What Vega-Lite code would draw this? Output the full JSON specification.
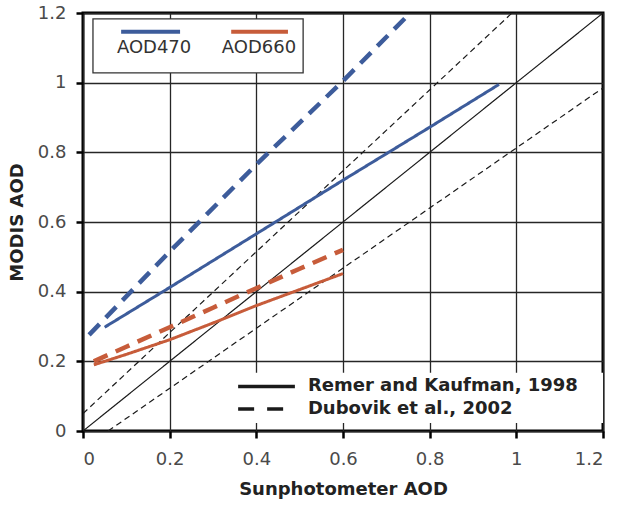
{
  "$schema": "https://vega.github.io/schema/vega-lite/v6.json",
  "width": 520,
  "height": 418,
  "autosize": {"type": "none"},
  "padding": {"left": 83, "top": 13, "right": 24, "bottom": 74},
  "background": "white",
  "config": {
    "view": {"stroke": "black", "strokeWidth": 3},
    "font": "DejaVu Sans",
    "axis": {
      "domain": false,
      "grid": true,
      "gridColor": "#262626",
      "gridWidth": 1.3,
      "gridOpacity": 1,
      "ticks": true,
      "tickColor": "black",
      "tickWidth": 2.5,
      "tickSize": 7,
      "labelFont": "DejaVu Sans",
      "labelFontSize": 18,
      "labelColor": "#4a4a4a",
      "titleFont": "DejaVu Sans",
      "titleFontSize": 18,
      "titleFontWeight": "bold",
      "titleColor": "#222"
    }
  },
  "resolve": {"scale": {"strokeDash": "independent"}},
  "datasets": {
    "curves": [
      {"band": "AOD470", "method": "Remer", "sun": 0.05, "modis": 0.298},
      {"band": "AOD470", "method": "Remer", "sun": 0.2, "modis": 0.412},
      {"band": "AOD470", "method": "Remer", "sun": 0.4, "modis": 0.566},
      {"band": "AOD470", "method": "Remer", "sun": 0.6, "modis": 0.72},
      {"band": "AOD470", "method": "Remer", "sun": 0.8, "modis": 0.872},
      {"band": "AOD470", "method": "Remer", "sun": 0.96, "modis": 0.995},
      {"band": "AOD470", "method": "Dubovik", "sun": 0.014, "modis": 0.276},
      {"band": "AOD470", "method": "Dubovik", "sun": 0.2, "modis": 0.515},
      {"band": "AOD470", "method": "Dubovik", "sun": 0.4, "modis": 0.765},
      {"band": "AOD470", "method": "Dubovik", "sun": 0.6, "modis": 1.005},
      {"band": "AOD470", "method": "Dubovik", "sun": 0.755, "modis": 1.2},
      {"band": "AOD660", "method": "Remer", "sun": 0.025, "modis": 0.19},
      {"band": "AOD660", "method": "Remer", "sun": 0.1, "modis": 0.22},
      {"band": "AOD660", "method": "Remer", "sun": 0.2, "modis": 0.262},
      {"band": "AOD660", "method": "Remer", "sun": 0.3, "modis": 0.31},
      {"band": "AOD660", "method": "Remer", "sun": 0.4, "modis": 0.36},
      {"band": "AOD660", "method": "Remer", "sun": 0.5, "modis": 0.406},
      {"band": "AOD660", "method": "Remer", "sun": 0.6, "modis": 0.452},
      {"band": "AOD660", "method": "Dubovik", "sun": 0.025, "modis": 0.2},
      {"band": "AOD660", "method": "Dubovik", "sun": 0.1, "modis": 0.242},
      {"band": "AOD660", "method": "Dubovik", "sun": 0.2, "modis": 0.298},
      {"band": "AOD660", "method": "Dubovik", "sun": 0.3, "modis": 0.354},
      {"band": "AOD660", "method": "Dubovik", "sun": 0.4, "modis": 0.41},
      {"band": "AOD660", "method": "Dubovik", "sun": 0.5, "modis": 0.466},
      {"band": "AOD660", "method": "Dubovik", "sun": 0.6, "modis": 0.52}
    ],
    "reference": [
      {"line": "one-to-one", "kind": "solid", "sun": 0, "modis": 0},
      {"line": "one-to-one", "kind": "solid", "sun": 1.2, "modis": 1.2},
      {"line": "upper", "kind": "envelope", "sun": 0, "modis": 0.05},
      {"line": "upper", "kind": "envelope", "sun": 0.99, "modis": 1.2},
      {"line": "lower", "kind": "envelope", "sun": 0.058, "modis": 0},
      {"line": "lower", "kind": "envelope", "sun": 1.2, "modis": 0.985}
    ],
    "boxes": [
      {"box": "bands", "x": 0.023, "x2": 0.508, "y": 1.028, "y2": 1.183},
      {"box": "methods", "x": 0.33, "x2": 1.2, "y": 0.023, "y2": 0.167}
    ],
    "bandKeys": [
      {"band": "AOD470", "x": 0.088, "x2": 0.224, "y": 1.146, "lx": 0.164, "ly": 1.1},
      {"band": "AOD660", "x": 0.342, "x2": 0.473, "y": 1.146, "lx": 0.406, "ly": 1.1}
    ],
    "methodKeys": [
      {"method": "Remer", "label": "Remer and Kaufman, 1998", "x": 0.358, "x2": 0.489, "y": 0.128, "lx": 0.519},
      {"method": "Dubovik", "label": "Dubovik et al., 2002", "x": 0.358, "x2": 0.462, "y": 0.063, "lx": 0.519}
    ]
  },
  "layer": [
    {
      "data": {"name": "boxes"},
      "transform": [{"filter": "datum.box === 'methods'"}],
      "mark": {"type": "rect", "fill": "white", "strokeWidth": 0},
      "encoding": {
        "x": {"field": "x", "type": "quantitative", "scale": {"domain": [0, 1.2]},
              "axis": {"values": [0, 0.2, 0.4, 0.6, 0.8, 1, 1.2], "format": "~g", "title": "Sunphotometer AOD", "labelPadding": 12, "titlePadding": 12}},
        "x2": {"field": "x2"},
        "y": {"field": "y", "type": "quantitative", "scale": {"domain": [0, 1.2]},
              "axis": {"values": [0, 0.2, 0.4, 0.6, 0.8, 1, 1.2], "format": "~g", "title": "MODIS AOD", "labelPadding": 10, "titlePadding": 11}},
        "y2": {"field": "y2"}
      }
    },
    {
      "data": {"name": "boxes"},
      "transform": [{"filter": "datum.box === 'bands'"}],
      "mark": {"type": "rect", "fill": "white", "stroke": "#333", "strokeWidth": 1.3},
      "encoding": {
        "x": {"field": "x", "type": "quantitative"},
        "x2": {"field": "x2"},
        "y": {"field": "y", "type": "quantitative"},
        "y2": {"field": "y2"}
      }
    },
    {
      "data": {"name": "reference"},
      "mark": {"type": "line", "color": "#1a1a1a", "strokeWidth": 1.2, "clip": true},
      "encoding": {
        "x": {"field": "sun", "type": "quantitative"},
        "y": {"field": "modis", "type": "quantitative"},
        "detail": {"field": "line"},
        "strokeDash": {"field": "kind", "type": "nominal",
                       "scale": {"domain": ["solid", "envelope"], "range": [[1, 0], [6, 4]]}, "legend": null}
      }
    },
    {
      "data": {"name": "curves"},
      "mark": {"type": "line", "clip": true, "strokeCap": "butt"},
      "encoding": {
        "x": {"field": "sun", "type": "quantitative"},
        "y": {"field": "modis", "type": "quantitative"},
        "detail": {"field": "method"},
        "color": {"field": "band", "type": "nominal",
                  "scale": {"domain": ["AOD470", "AOD660"], "range": ["#3d5c9b", "#c75c3a"]}, "legend": null},
        "strokeDash": {"field": "method", "type": "nominal",
                       "scale": {"domain": ["Remer", "Dubovik"], "range": [[1, 0], [15, 9]]}, "legend": null},
        "strokeWidth": {"field": "method", "type": "nominal",
                        "scale": {"domain": ["Remer", "Dubovik"], "range": [3, 4.5]}, "legend": null}
      }
    },
    {
      "data": {"name": "bandKeys"},
      "mark": {"type": "rule", "strokeWidth": 4},
      "encoding": {
        "x": {"field": "x", "type": "quantitative"},
        "x2": {"field": "x2"},
        "y": {"field": "y", "type": "quantitative"},
        "color": {"field": "band", "type": "nominal", "legend": null}
      }
    },
    {
      "data": {"name": "bandKeys"},
      "mark": {"type": "text", "fontSize": 18, "color": "#333", "align": "center", "baseline": "middle", "font": "DejaVu Sans"},
      "encoding": {
        "x": {"field": "lx", "type": "quantitative"},
        "y": {"field": "ly", "type": "quantitative"},
        "text": {"field": "band"}
      }
    },
    {
      "data": {"name": "methodKeys"},
      "mark": {"type": "rule", "strokeWidth": 3.5, "color": "#1a1a1a", "strokeCap": "butt"},
      "encoding": {
        "x": {"field": "x", "type": "quantitative"},
        "x2": {"field": "x2"},
        "y": {"field": "y", "type": "quantitative"},
        "strokeDash": {"field": "method", "type": "nominal",
                       "scale": {"domain": ["Remer", "Dubovik"], "range": [[1, 0], [16, 13]]}, "legend": null}
      }
    },
    {
      "data": {"name": "methodKeys"},
      "mark": {"type": "text", "fontSize": 18, "fontWeight": "bold", "color": "#222", "align": "left", "baseline": "middle", "font": "DejaVu Sans"},
      "encoding": {
        "x": {"field": "lx", "type": "quantitative"},
        "y": {"field": "y", "type": "quantitative"},
        "text": {"field": "label"}
      }
    }
  ]
}
